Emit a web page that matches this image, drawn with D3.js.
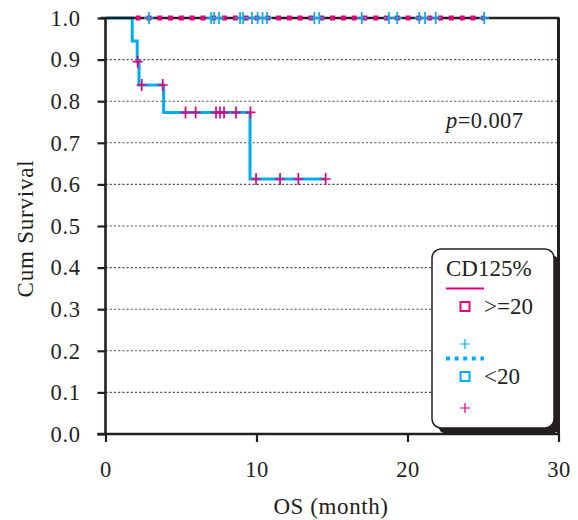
<!DOCTYPE html>
<html>
<head>
<meta charset="utf-8">
<script src="https://cdn.jsdelivr.net/npm/d3@7"></script>
<style>
  html, body { margin: 0; padding: 0; background: #fff; }
  svg text { font-family: "Liberation Serif", "Times New Roman", serif; fill: #231f20; }
</style>
</head>
<body>
<svg id="chart" width="578" height="520"></svg>
<script>
// Kaplan-Meier overall survival by CD125 group

// x / y axis ticks
const xTicks = [0, 10, 20, 30];
const yTicks = [0, 0.1, 0.2, 0.3, 0.4, 0.5, 0.6, 0.7, 0.8, 0.9, 1.0];

// CD125 >= 20 : no events, survival stays at 1.0
const highStartT = 2.0;
const highEndT = 25.1;
const highSurv = 1.0;
const highCensorT = [2.88, 6.99, 7.19, 7.52, 8.91, 9.11, 9.70, 10.07, 10.40, 10.70,
                     13.83, 14.16, 16.97, 18.77, 19.32, 20.78, 21.16, 21.87, 25.08];

// CD125 < 20 : step function (event times and survival after each step)
const lowStepT = [0, 1.77, 2.10, 2.22, 3.85, 9.57, 14.6];
const lowStepS = [1.0, 0.945, 0.895, 0.839, 0.773, 0.613, 0.613];
const lowCensorT = [2.13, 2.40, 3.79, 5.30, 5.97, 7.32, 7.58, 7.85, 8.64, 9.60,
                    9.97, 11.56, 12.77, 14.58];
const lowCensorS = [0.895, 0.839, 0.839, 0.773, 0.773, 0.773, 0.773, 0.773, 0.773, 0.773,
                    0.613, 0.613, 0.613, 0.613];

const pValue = "0.007";
const legendTitle = "CD125%";
const groupLabels = [">=20", "<20"];

const PINK = "#e4007f";
const BLUE = "#00aeef";
const INK = "#231f20";

const svg = d3.select("#chart");
const x = d3.scaleLinear().domain([0, 30]).range([105.5, 558.5]);
const y = d3.scaleLinear().domain([0, 1]).range([434, 18]);

// dotted horizontal gridlines
svg.append("g").selectAll("line")
  .data(yTicks.filter(v => v > 0 && v < 1))
  .join("line")
  .attr("x1", x(0)).attr("x2", x(30))
  .attr("y1", d => y(d)).attr("y2", d => y(d))
  .attr("stroke", "#555").attr("stroke-width", 1.1)
  .attr("stroke-dasharray", "2.2,2");

// CD125 < 20 curve
const line = d3.line().x((d, i) => x(lowStepT[i])).y(d => y(d)).curve(d3.curveStepAfter);
svg.append("path")
  .attr("d", line(lowStepS))
  .attr("fill", "none").attr("stroke", BLUE).attr("stroke-width", 3);

// frame: top and right edges
svg.append("line")
  .attr("x1", x(0) - 5).attr("x2", x(30) + 1).attr("y1", y(1)).attr("y2", y(1))
  .attr("stroke", INK).attr("stroke-width", 2.6);
svg.append("line")
  .attr("x1", x(30)).attr("x2", x(30)).attr("y1", y(1)).attr("y2", y(0))
  .attr("stroke", INK).attr("stroke-width", 3);

// axes
const yAxis = d3.axisLeft(y).tickValues(yTicks).tickFormat(d3.format(".1f")).tickSize(8).tickPadding(17);
const gy = svg.append("g").attr("transform", `translate(${x(0)},0)`).call(yAxis);
const xAxis = d3.axisBottom(x).tickValues(xTicks).tickFormat(d3.format("d")).tickSize(8).tickPadding(19);
const gx = svg.append("g").attr("transform", `translate(0,${y(0)})`).call(xAxis);
[gx, gy].forEach(g => {
  g.select(".domain").attr("stroke", INK).attr("stroke-width", 2.6);
  g.selectAll(".tick line").attr("stroke", INK).attr("stroke-width", 2.2);
  g.selectAll(".tick text")
    .attr("fill", INK)
    .style("font-family", '"Liberation Serif", serif')
    .style("font-size", "22.5px")
    .style("letter-spacing", "0.6px");
});
gy.select(".domain").attr("d", `M0,${y(1)}V${y(0)}`);
gx.select(".domain").attr("d", `M${x(0) - 8},0H${x(30)}`);

// censor marks on CD125 < 20
svg.append("g").selectAll("path")
  .data(lowCensorT.map((t, i) => [t, lowCensorS[i]]))
  .join("path")
  .attr("d", d => `M${x(d[0]) - 5},${y(d[1])}h10M${x(d[0])},${y(d[1]) - 6}v12`)
  .attr("stroke", PINK).attr("stroke-width", 1.7).attr("fill", "none");

// CD125 >= 20 flat line
svg.append("line")
  .attr("x1", x(highStartT)).attr("x2", x(highEndT))
  .attr("y1", y(highSurv)).attr("y2", y(highSurv))
  .attr("stroke", PINK).attr("stroke-width", 4.8)
  .attr("stroke-dasharray", "4.9,5.9");

svg.append("g").selectAll("path")
  .data(highCensorT)
  .join("path")
  .attr("d", t => `M${x(t) - 5},${y(highSurv)}h10M${x(t)},${y(highSurv) - 6}v12`)
  .attr("stroke", BLUE).attr("stroke-width", 1.7).attr("fill", "none");

// axis titles
svg.append("text")
  .attr("transform", "translate(33,228.5) rotate(-90)")
  .attr("text-anchor", "middle")
  .style("font-size", "23px").style("letter-spacing", "0.8px")
  .text("Cum Survival");
svg.append("text")
  .attr("x", 331).attr("y", 514)
  .attr("text-anchor", "middle")
  .style("font-size", "23px").style("letter-spacing", "0.6px")
  .text("OS (month)");

// p value
const pt = svg.append("text").attr("x", 446).attr("y", 128)
  .style("font-size", "22.5px").style("letter-spacing", "0.4px");
pt.append("tspan").style("font-style", "italic").text("p");
pt.append("tspan").text("=" + pValue);

// legend box with drop shadow
const lg = svg.append("g");
lg.append("rect").attr("x", 438).attr("y", 255).attr("width", 122).attr("height", 179)
  .attr("rx", 9).attr("fill", INK);
lg.append("rect").attr("x", 432).attr("y", 249).attr("width", 122).attr("height", 179)
  .attr("rx", 9).attr("fill", "#fff").attr("stroke", INK).attr("stroke-width", 1.5);

lg.append("text").attr("x", 446).attr("y", 276)
  .style("font-size", "23px").text(legendTitle);

// >=20 entry
lg.append("line").attr("x1", 446).attr("x2", 484).attr("y1", 288.5).attr("y2", 288.5)
  .attr("stroke", PINK).attr("stroke-width", 2.2);
lg.append("rect").attr("x", 460.5).attr("y", 302).attr("width", 9).attr("height", 9)
  .attr("fill", "none").attr("stroke", PINK).attr("stroke-width", 2);
lg.append("text").attr("x", 484).attr("y", 314)
  .style("font-size", "23px").text(groupLabels[0]);
lg.append("path").attr("d", "M460,344h10M465,339v10")
  .attr("stroke", BLUE).attr("stroke-width", 1.2);

// <20 entry
lg.append("line").attr("x1", 446).attr("x2", 484).attr("y1", 358.5).attr("y2", 358.5)
  .attr("stroke", BLUE).attr("stroke-width", 4)
  .attr("stroke-dasharray", "4,4.6");
lg.append("rect").attr("x", 460.5).attr("y", 372).attr("width", 9).attr("height", 9)
  .attr("fill", "none").attr("stroke", BLUE).attr("stroke-width", 2);
lg.append("text").attr("x", 484).attr("y", 384)
  .style("font-size", "23px").text(groupLabels[1]);
lg.append("path").attr("d", "M460,408h10M465,403v10")
  .attr("stroke", PINK).attr("stroke-width", 1.2);
</script>
</body>
</html>
